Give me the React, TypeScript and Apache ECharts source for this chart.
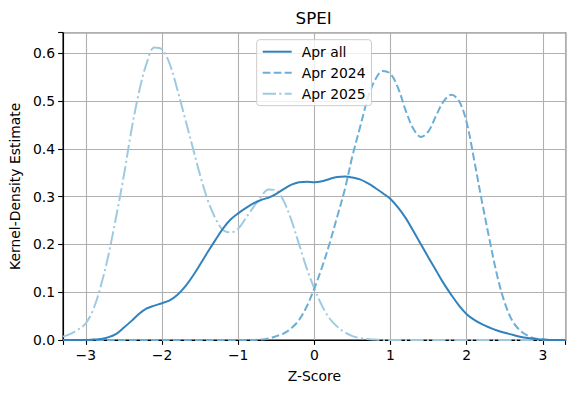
import React, { useEffect, useRef } from "react";
import * as echarts from "echarts";

const zScores = [
  -3.3, -3.2, -3.1, -3.0, -2.9, -2.8, -2.7, -2.6, -2.5, -2.4, -2.3, -2.2, -2.1, -2.0,
  -1.9, -1.8, -1.7, -1.6, -1.5, -1.4, -1.3, -1.2, -1.1, -1.0, -0.9, -0.8, -0.7, -0.6,
  -0.5, -0.4, -0.3, -0.2, -0.1, 0.0, 0.1, 0.2, 0.3, 0.4, 0.5, 0.6, 0.7, 0.8, 0.9, 1.0,
  1.1, 1.2, 1.3, 1.4, 1.5, 1.6, 1.7, 1.8, 1.9, 2.0, 2.1, 2.2, 2.3, 2.4, 2.5, 2.6, 2.7,
  2.8, 2.9, 3.0, 3.1, 3.2, 3.3,
];

const aprAll = [
  0, 0, 0, 0, 0.001, 0.002, 0.006, 0.013, 0.026, 0.04, 0.055, 0.066, 0.072, 0.077,
  0.083, 0.094, 0.111, 0.133, 0.158, 0.184, 0.209, 0.233, 0.252, 0.265, 0.276, 0.286, 0.293, 0.298,
  0.306, 0.316, 0.325, 0.33, 0.331, 0.33, 0.332, 0.337, 0.341, 0.342, 0.34, 0.336, 0.328, 0.318, 0.307, 0.295,
  0.277, 0.255, 0.228, 0.2, 0.172, 0.145, 0.118, 0.094, 0.072, 0.054, 0.042, 0.033, 0.026, 0.02, 0.015, 0.011, 0.007,
  0.004, 0.002, 0.001, 0, 0, 0,
];

const apr2024 = [
  0, 0, 0, 0, 0, 0, 0, 0, 0, 0, 0, 0, 0, 0,
  0, 0, 0, 0, 0, 0, 0, 0, 0, 0, 0, 0, 0.001, 0.003,
  0.008, 0.014, 0.025, 0.042, 0.07, 0.108, 0.152, 0.202, 0.258, 0.315, 0.385, 0.445, 0.505, 0.545, 0.563, 0.557,
  0.527, 0.48, 0.442, 0.425, 0.437, 0.47, 0.5, 0.513, 0.5, 0.455, 0.375, 0.29, 0.21, 0.135, 0.078, 0.04, 0.02,
  0.009, 0.003, 0.001, 0, 0, 0,
];

const apr2025 = [
  0.007, 0.013, 0.022, 0.035, 0.065, 0.115, 0.18, 0.26, 0.345, 0.44, 0.52, 0.58, 0.612, 0.608,
  0.578, 0.525, 0.465, 0.405, 0.345, 0.293, 0.255, 0.23, 0.225, 0.233, 0.255, 0.278, 0.3, 0.315,
  0.313, 0.29, 0.25, 0.2, 0.15, 0.108, 0.072, 0.045, 0.028, 0.016, 0.008, 0.004, 0.002, 0.001, 0, 0,
  0, 0, 0, 0, 0, 0, 0, 0, 0, 0, 0, 0, 0, 0, 0, 0, 0,
  0, 0, 0, 0, 0, 0,
];

const seriesNames = ["Apr all", "Apr 2024", "Apr 2025"];
const seriesColors = ["#3182bd", "#6baed6", "#9ecae1"];
const xTicks = [-3, -2, -1, 0, 1, 2, 3];
const yTicks = [0, 0.1, 0.2, 0.3, 0.4, 0.5, 0.6];

const FONT = "DejaVu Sans";

function pair(ys: number[]) {
  return zScores.map((x, i) => [x, ys[i]]);
}

export default function App() {
  const ref = useRef<HTMLDivElement>(null);
  useEffect(() => {
    if (!ref.current) return;
    const chart = echarts.init(ref.current, null, { renderer: "svg" });
    const isTick = (v: number, arr: number[]) => arr.some((t) => Math.abs(t - v) < 1e-6);
    const dashes = [undefined, [7.7, 3.3], [13.3, 3.3, 2.1, 3.3]];
    chart.setOption({
      animation: false,
      textStyle: { fontFamily: FONT },
      grid: {
        left: 61.5,
        right: 9.3,
        top: 32.7,
        bottom: 53,
        show: true,
        borderColor: "#000",
        borderWidth: 1.1,
        backgroundColor: "transparent",
      },
      graphic: [
        {
          type: "text",
          x: 313.6,
          y: 18,
          style: {
            text: "SPEI",
            font: `16.7px "${FONT}"`,
            fill: "#000",
            textAlign: "center",
            textVerticalAlign: "middle",
          },
        },
      ],
      legend: {
        orient: "vertical",
        left: 256.7,
        top: 39.7,
        padding: [5, 6, 5, 5],
        itemWidth: 29,
        itemHeight: 14,
        itemGap: 7,
        backgroundColor: "rgba(255,255,255,0.8)",
        borderColor: "#cccccc",
        borderWidth: 1,
        borderRadius: 3,
        itemStyle: { opacity: 0 },
        textStyle: { fontFamily: FONT, fontSize: 13.9, color: "#000", padding: [0, 0, 0, 5] },
        data: seriesNames.map((n) => ({ name: n })),
      },
      xAxis: {
        type: "value",
        min: -3.3,
        max: 3.3,
        name: "Z-Score",
        nameLocation: "middle",
        nameGap: 29,
        nameTextStyle: { fontFamily: FONT, fontSize: 13.9, color: "#000" },
        axisLine: { show: true, onZero: false, lineStyle: { color: "#000", width: 1.1 } },
        axisTick: { show: true, length: 4.9, lineStyle: { color: "#000", width: 1.1 } },
        axisLabel: {
          fontFamily: FONT,
          fontSize: 13.9,
          color: "#000",
          margin: 8,
          showMinLabel: true,
          showMaxLabel: true,
          formatter: (v: number) => (isTick(v, xTicks) ? String(Math.round(v)).replace("-", "\u2212") : ""),
        },
        splitLine: { show: true, lineStyle: { color: "#b0b0b0", width: 1.1 } },
      },
      yAxis: {
        type: "value",
        min: 0,
        max: 0.643,
        interval: 0.1,
        name: "Kernel-Density Estimate",
        nameLocation: "middle",
        nameGap: 37,
        nameTextStyle: { fontFamily: FONT, fontSize: 13.9, color: "#000" },
        axisLine: { show: true, onZero: false, lineStyle: { color: "#000", width: 1.1 } },
        axisTick: { show: true, length: 4.9, lineStyle: { color: "#000", width: 1.1 } },
        axisLabel: {
          fontFamily: FONT,
          fontSize: 13.9,
          color: "#000",
          margin: 8,
          formatter: (v: number) => (isTick(v, yTicks) ? v.toFixed(1) : ""),
        },
        splitLine: { show: true, lineStyle: { color: "#b0b0b0", width: 1.1 } },
      },
      series: [aprAll, apr2024, apr2025].map((ys, i) => ({
        name: seriesNames[i],
        type: "line",
        data: pair(ys),
        showSymbol: false,
        symbol: "none",
        smooth: 0.35,
        color: seriesColors[i],
        lineStyle: {
          color: seriesColors[i],
          width: 2,
          type: dashes[i] ? dashes[i] : "solid",
        },
        z: 3 - i,
      })),
    });
    return () => chart.dispose();
  }, []);
  return (
    <div
      ref={ref}
      style={{ position: "absolute", left: 0, top: 0, width: 575, height: 393 }}
    />
  );
}
